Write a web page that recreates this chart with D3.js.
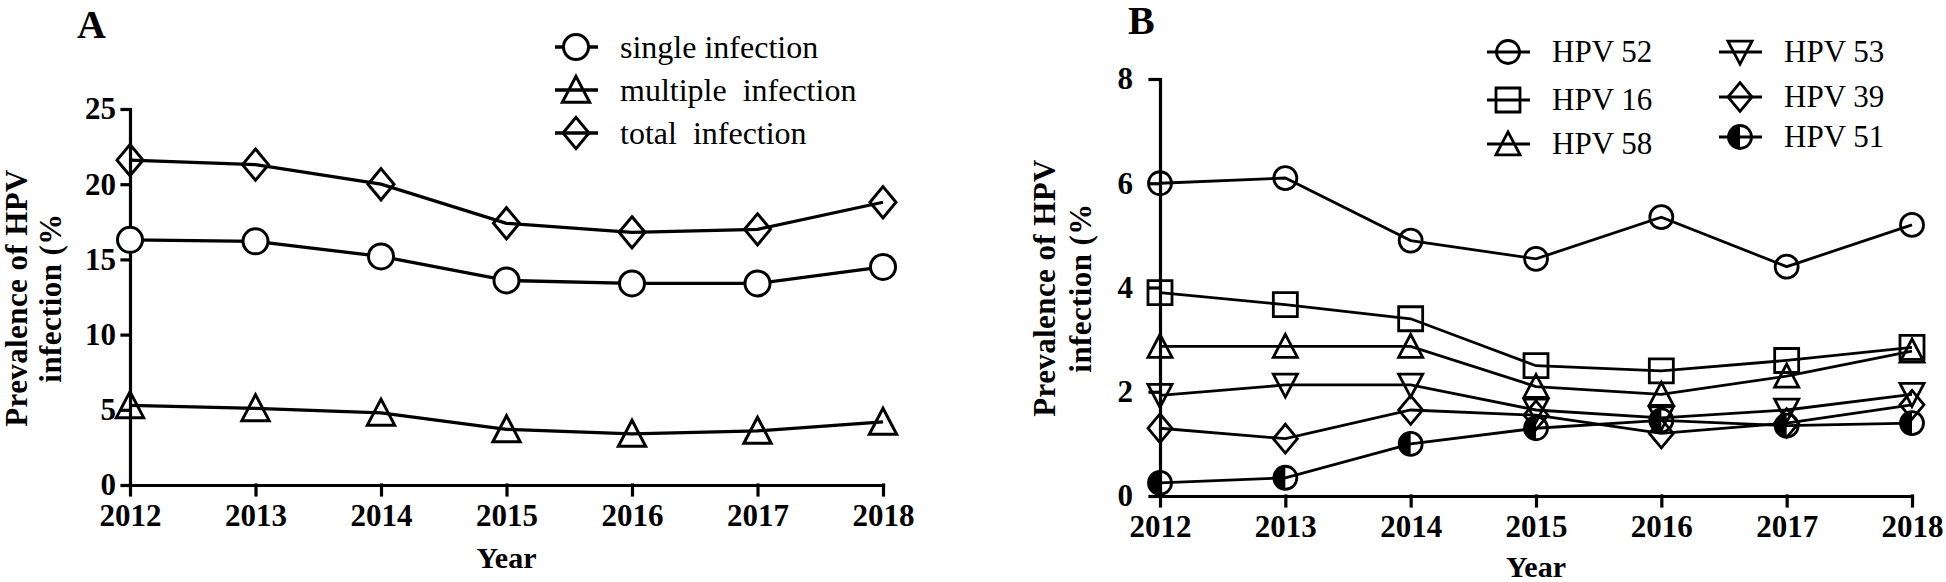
<!DOCTYPE html>
<html>
<head>
<meta charset="utf-8">
<script src="https://cdn.jsdelivr.net/npm/d3@7"></script>
<style>
  body { margin: 0; background: #fff; }
  text { font-family: "Liberation Serif", "Times New Roman", serif; fill: #000; }
</style>
</head>
<body>
<div id="chart"></div>
<script>
// values
const years = [2012, 2013, 2014, 2015, 2016, 2017, 2018]

const namesA = ["single infection", "multiple  infection", "total  infection"]
const single = [16.3, 16.2, 15.2, 13.6, 13.4, 13.4, 14.5]
const multiple = [5.3, 5.1, 4.8, 3.7, 3.4, 3.6, 4.2]
const total = [21.6, 21.3, 20.0, 17.4, 16.8, 17.0, 18.8]
const ticksA = [0, 5, 10, 15, 20, 25]

const namesB = ["HPV 52", "HPV 16", "HPV 58", "HPV 53", "HPV 39", "HPV 51"]
const hpv52 = [6.0, 6.1, 4.9, 4.55, 5.35, 4.4, 5.2]
const hpv16 = [3.9, 3.67, 3.4, 2.5, 2.4, 2.6, 2.85]
const hpv58 = [2.87, 2.87, 2.87, 2.1, 1.95, 2.3, 2.78]
const hpv53 = [1.93, 2.13, 2.13, 1.65, 1.5, 1.65, 1.95]
const hpv39 = [1.3, 1.1, 1.65, 1.55, 1.2, 1.4, 1.75]
const hpv51 = [0.25, 0.35, 1.0, 1.3, 1.45, 1.35, 1.4]
const ticksB = [0, 2, 4, 6, 8]

const svg = d3.select("#chart").append("svg")
  .attr("width", 1946)
  .attr("height", 582)

// marker shapes, centred on 0,0
function shape(type, s) {
  const p = d3.path()
  if (type == "circle" || type == "half") {
    p.arc(0, 0, s, 0, 2 * Math.PI)
  } else if (type == "square") {
    p.rect(-s, -s, 2 * s, 2 * s)
  } else if (type == "up") {
    p.moveTo(0, -s * 1.05); p.lineTo(s * 1.05, s * 0.95); p.lineTo(-s * 1.05, s * 0.95); p.closePath()
  } else if (type == "down") {
    p.moveTo(0, s * 1.05); p.lineTo(s * 1.05, -s * 0.95); p.lineTo(-s * 1.05, -s * 0.95); p.closePath()
  } else if (type == "diamond") {
    p.moveTo(0, -s * 1.2); p.lineTo(s, 0); p.lineTo(0, s * 1.2); p.lineTo(-s, 0); p.closePath()
  }
  return p.toString()
}

function drawMarker(g, type, s, fill, sw) {
  g.append("path")
    .attr("d", shape(type, s))
    .attr("fill", fill)
    .attr("stroke", "#000")
    .attr("stroke-width", sw)
  if (type == "half") {
    // left half filled black
    const p = d3.path()
    p.moveTo(0, -s); p.arc(0, 0, s, -Math.PI / 2, Math.PI / 2, true); p.closePath()
    g.append("path").attr("d", p.toString()).attr("fill", "#000")
  }
}

function axes(g, x, y, yTicks, ytick, ypad) {
  g.append("g")
    .attr("transform", `translate(0,${y(0)})`)
    .call(d3.axisBottom(x).tickValues(years).tickFormat(d3.format("d"))
      .tickSize(10).tickSizeOuter(0).tickPadding(9))
  g.append("g")
    .attr("transform", `translate(${x(years[0])},0)`)
    .call(d3.axisLeft(y).tickValues(yTicks).tickSize(ytick).tickSizeOuter(0).tickPadding(ypad))
  g.selectAll(".domain, .tick line")
    .attr("stroke", "#000")
    .attr("stroke-width", 3.2)
    .attr("stroke-linecap", "square")
  g.selectAll(".tick text")
    .attr("font-family", "Liberation Serif, Times New Roman, serif")
    .attr("font-size", 31)
    .attr("font-weight", "bold")
    .attr("fill", "#000")
}

function yTitle(g, bx1, bx2, cy) {
  ;[["Prevalence of HPV", bx1], ["infection (%", bx2]].forEach(([s, bx]) => {
    g.append("text")
      .attr("transform", `translate(${bx},${cy}) rotate(-90)`)
      .attr("text-anchor", "middle")
      .attr("font-size", 31)
      .attr("font-weight", "bold")
      .attr("letter-spacing", 0.4)
      .text(s)
  })
}

// ---------- panel A ----------
const xA = d3.scaleLinear().domain([2012, 2018]).range([130, 883])
const yA = d3.scaleLinear().domain([0, 25]).range([485, 109])
const gA = svg.append("g")

axes(gA, xA, yA, ticksA, 8, 6)

const seriesA = [
  { name: namesA[0], values: single, type: "circle", fill: "#fff", s: 12.5 },
  { name: namesA[1], values: multiple, type: "up", fill: "none", s: 13 },
  { name: namesA[2], values: total, type: "diamond", fill: "none", s: 13 }
]

const lineA = d3.line().x((d, i) => xA(years[i])).y(d => yA(d))
seriesA.forEach(s => {
  gA.append("path").attr("d", lineA(s.values))
    .attr("fill", "none").attr("stroke", "#000").attr("stroke-width", 3.3)
})
seriesA.forEach(s => {
  s.values.forEach((v, i) => {
    drawMarker(gA.append("g").attr("transform", `translate(${xA(years[i])},${yA(v)})`), s.type, s.s, s.fill, 3)
  })
})

seriesA.forEach((s, i) => {
  const lg = gA.append("g").attr("transform", `translate(576,${47 + i * 43})`)
  lg.append("line").attr("x1", -21).attr("x2", 22).attr("stroke", "#000").attr("stroke-width", 3.3)
  drawMarker(lg, s.type, s.s, s.fill, 3)
  lg.append("text").attr("x", 44).attr("dy", "0.33em")
    .attr("font-size", 32).style("white-space", "pre").text(s.name)
})

yTitle(gA, 27, 61, 298)
gA.append("text").attr("x", xA(2015)).attr("y", 568)
  .attr("text-anchor", "middle").attr("font-size", 30).attr("font-weight", "bold").text("Year")
gA.append("text").attr("x", 77).attr("y", 38)
  .attr("font-size", 40).attr("font-weight", "bold").text("A")

// ---------- panel B ----------
const xB = d3.scaleLinear().domain([2012, 2018]).range([1160, 1912])
const yB = d3.scaleLinear().domain([0, 8]).range([496, 79])
const gB = svg.append("g")

axes(gB, xB, yB, ticksB, 10, 17)

const seriesB = [
  { name: namesB[0], values: hpv52, type: "circle", s: 11.5 },
  { name: namesB[1], values: hpv16, type: "square", s: 12 },
  { name: namesB[2], values: hpv58, type: "up", s: 11.5 },
  { name: namesB[3], values: hpv53, type: "down", s: 11.5 },
  { name: namesB[4], values: hpv39, type: "diamond", s: 12 },
  { name: namesB[5], values: hpv51, type: "half", s: 11.5 }
]

const lineB = d3.line().x((d, i) => xB(years[i])).y(d => yB(d))
seriesB.forEach(s => {
  gB.append("path").attr("d", lineB(s.values))
    .attr("fill", "none").attr("stroke", "#000").attr("stroke-width", 2.8)
})
seriesB.forEach(s => {
  s.values.forEach((v, i) => {
    drawMarker(gB.append("g").attr("transform", `translate(${xB(years[i])},${yB(v)})`), s.type, s.s, "none", 2.8)
  })
})

// two legend columns
const legX = [1508, 1740]
const legY = [[52, 100, 144], [52, 97, 137]]
seriesB.forEach((s, i) => {
  const c = Math.floor(i / 3), r = i % 3
  const lg = gB.append("g").attr("transform", `translate(${legX[c]},${legY[c][r]})`)
  lg.append("line").attr("x1", -21).attr("x2", 22).attr("stroke", "#000").attr("stroke-width", 2.8)
  drawMarker(lg, s.type, s.s, "none", 2.8)
  lg.append("text").attr("x", 44).attr("dy", "0.33em")
    .attr("font-size", 31).text(s.name)
})

yTitle(gB, 1055, 1091, 288)
gB.append("text").attr("x", xB(2015)).attr("y", 577)
  .attr("text-anchor", "middle").attr("font-size", 30).attr("font-weight", "bold").text("Year")
gB.append("text").attr("x", 1128).attr("y", 34)
  .attr("font-size", 40).attr("font-weight", "bold").text("B")
</script>
</body>
</html>
